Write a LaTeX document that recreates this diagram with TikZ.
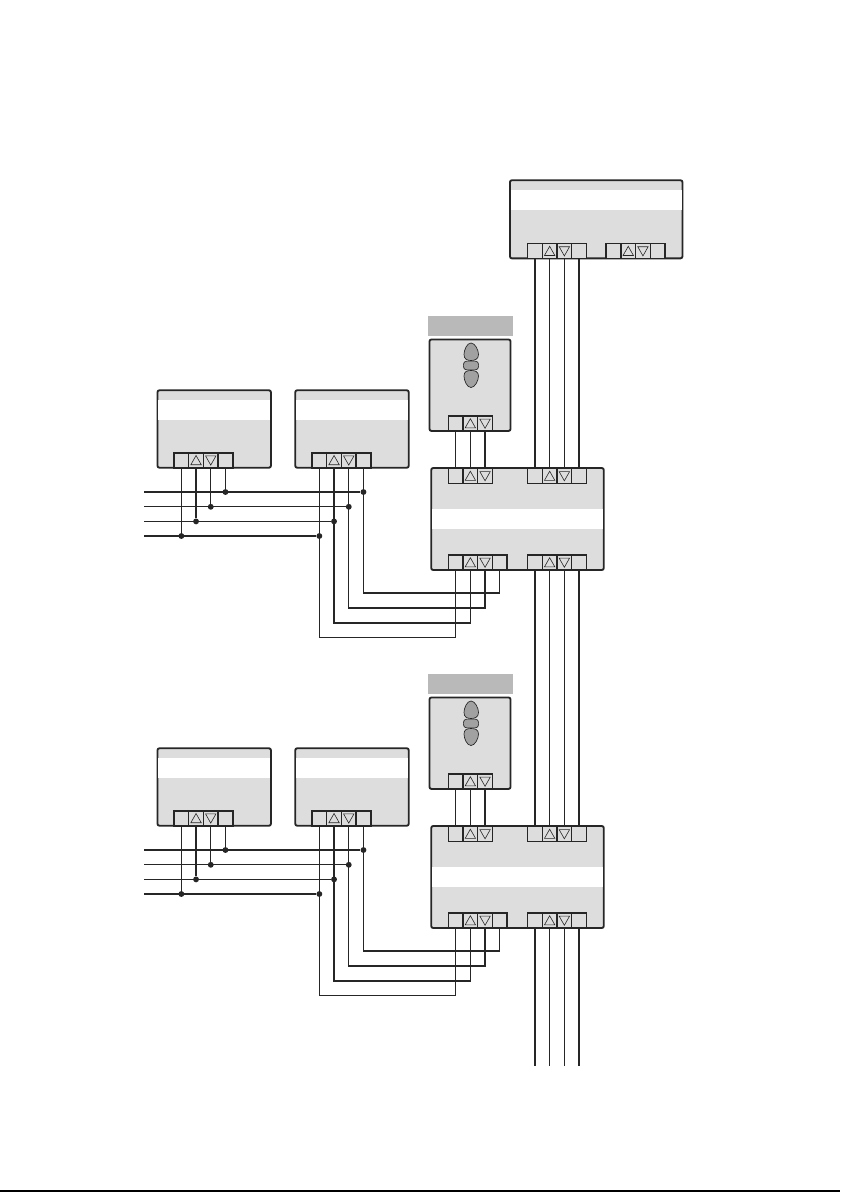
\documentclass[tikz,border=0pt]{standalone}
\usepackage{tikz}
\usepackage{xcolor}
\usetikzlibrary{positioning,calc}

\definecolor{boxgray}{gray}{0.865}
\definecolor{headgray}{gray}{0.725}
\definecolor{keygray}{gray}{0.63}
\definecolor{inkline}{gray}{0.15}

% row of terminals: name, left x, bottom y, count
\newcommand{\cellrow}[4]{
  \foreach \i in {1,...,#4} {
    \node[cell] (#1-\i) at ({#2+(\i-0.5)*14.7},#3-7.5) {};
  }
  \draw[tri] ($(#1-2)+(-5.2,4.4)$) -- ($(#1-2)+(5.2,4.4)$) -- ($(#1-2)+(0,-4.8)$) -- cycle;
  \draw[tri] ($(#1-3)+(-5.2,-4.4)$) -- ($(#1-3)+(5.2,-4.4)$) -- ($(#1-3)+(0,4.8)$) -- cycle;
}

\begin{document}
\begin{tikzpicture}[x=0.75pt, y=-0.75pt,
  unitbox/.style={
    rectangle, draw=inkline, line width=1.4pt, rounded corners=1.5pt, fill=boxgray,
    minimum width=85.1pt, minimum height=58.1pt, inner sep=0pt
  },
  panelbox/.style={
    unitbox, minimum width=129.4pt, minimum height=76.5pt
  },
  topbox/.style={
    unitbox, minimum width=129.4pt, minimum height=58.6pt
  },
  remotebox/.style={
    unitbox, minimum width=60.8pt, minimum height=68.6pt
  },
  band/.style={
    rectangle, fill=white, minimum height=15pt, inner sep=0pt
  },
  header/.style={
    rectangle, fill=headgray, minimum width=63.8pt, minimum height=15pt, inner sep=0pt
  },
  cell/.style={
    rectangle, draw=inkline, line width=1.1pt, fill=boxgray,
    minimum width=11.02pt, minimum height=11.25pt, inner sep=0pt
  },
  tri/.style={
    draw=inkline, line width=0.45pt, line join=miter
  },
  wire/.style={
    draw=inkline, line width=1pt
  },
  junction/.style={
    circle, fill=inkline, minimum size=4.4pt, inner sep=0pt
  },
  key/.style={
    draw=inkline, line width=0.5pt, fill=keygray
  }
]
\useasboundingbox (0,0) rectangle (840,1192);

% Top controller
\node[topbox] (top) at (596.2,219.3) {};
\node[band, minimum width=128pt] (topband) at (596.2,200) {};
\cellrow{top-a}{527.6}{258.6}{4}
\cellrow{top-b}{606.2}{258.6}{4}

\foreach \r/\off in {a/0,b/358} {
\begin{scope}[shift={(0,\off)}]

  % Header and remote
  \node[header] (\r-head) at (470.5,326) {};
  \node[remotebox] (\r-remote) at (470,385.2) {};
  \cellrow{\r-rem}{448.3}{431}{3}
  \draw[key] (471,343) .. controls (467,343) and (464,350) .. (464,354.5)
    .. controls (464,359) and (467,360.5) .. (471,360.5)
    .. controls (475,360.5) and (478.5,359) .. (478.5,354.5)
    .. controls (478.5,350) and (475,343) .. (471,343) -- cycle;
  \node[key, rectangle, rounded corners=2.5pt, minimum width=11.4pt, minimum height=6.6pt, inner sep=0pt] (\r-stop) at (471,365.5) {};
  \draw[key] (471,387.5) .. controls (467,387.5) and (464,380.5) .. (464,376)
    .. controls (464,371.5) and (467,370.5) .. (471,370.5)
    .. controls (475,370.5) and (478.5,371.5) .. (478.5,376)
    .. controls (478.5,380.5) and (475,387.5) .. (471,387.5) -- cycle;

  % Panel
  \node[panelbox] (\r-panel) at (517.5,519) {};
  \node[band, minimum width=128pt] (\r-pband) at (517.5,519) {};
  \cellrow{\r-pa}{448.3}{483.5}{3}
  \cellrow{\r-pc}{527.6}{483.5}{4}
  \cellrow{\r-pb}{448.3}{570}{4}
  \cellrow{\r-pd}{527.6}{570}{4}

  % Units
  \node[unitbox] (\r-ua) at (214.2,429) {};
  \node[band, minimum width=83.7pt] (\r-uaband) at (214.2,410) {};
  \cellrow{\r-ua}{174}{467.8}{4}
  \node[unitbox] (\r-ub) at (352,429) {};
  \node[band, minimum width=83.7pt] (\r-ubband) at (352,410) {};
  \cellrow{\r-ub}{312}{467.8}{4}

  % Bus lines
  \foreach \i/\b/\t in {1/536/637.5,2/521.4/623,3/506.8/608,4/492/593} {
    \coordinate (\r-bus\i) at (144,\b);
    \coordinate (\r-turn\i) at (400,\t);
    \node[junction] (\r-ja\i) at (\r-ua-\i |- \r-bus\i) {};
    \node[junction] (\r-jb\i) at (\r-ub-\i |- \r-bus\i) {};
    \draw[wire] (\r-bus\i) -- (\r-jb\i);
    \draw[wire] (\r-ua-\i.south) -- (\r-ja\i);
    \draw[wire] (\r-ub-\i.south) |- (\r-turn\i) -| (\r-pb-\i.south);
  }

  % Remote to panel
  \foreach \i in {1,2,3} {
    \draw[wire] (\r-rem-\i.south) -- (\r-pa-\i.north);
  }

\end{scope}
}

% Risers
\foreach \i in {1,2,3,4} {
  \coordinate (end\i) at (\i*14.7+520.25,1066);
  \draw[wire] (top-a-\i.south) -- (a-pc-\i.north);
  \draw[wire] (a-pd-\i.south) -- (b-pc-\i.north);
  \draw[wire] (b-pd-\i.south) -- (end\i);
}

% Rule at the foot of the page
\coordinate (ruleL) at (0,1191);
\coordinate (ruleR) at (840,1191);
\draw[black, line width=1.5pt] (ruleL) -- (ruleR);

\end{tikzpicture}
\end{document}
